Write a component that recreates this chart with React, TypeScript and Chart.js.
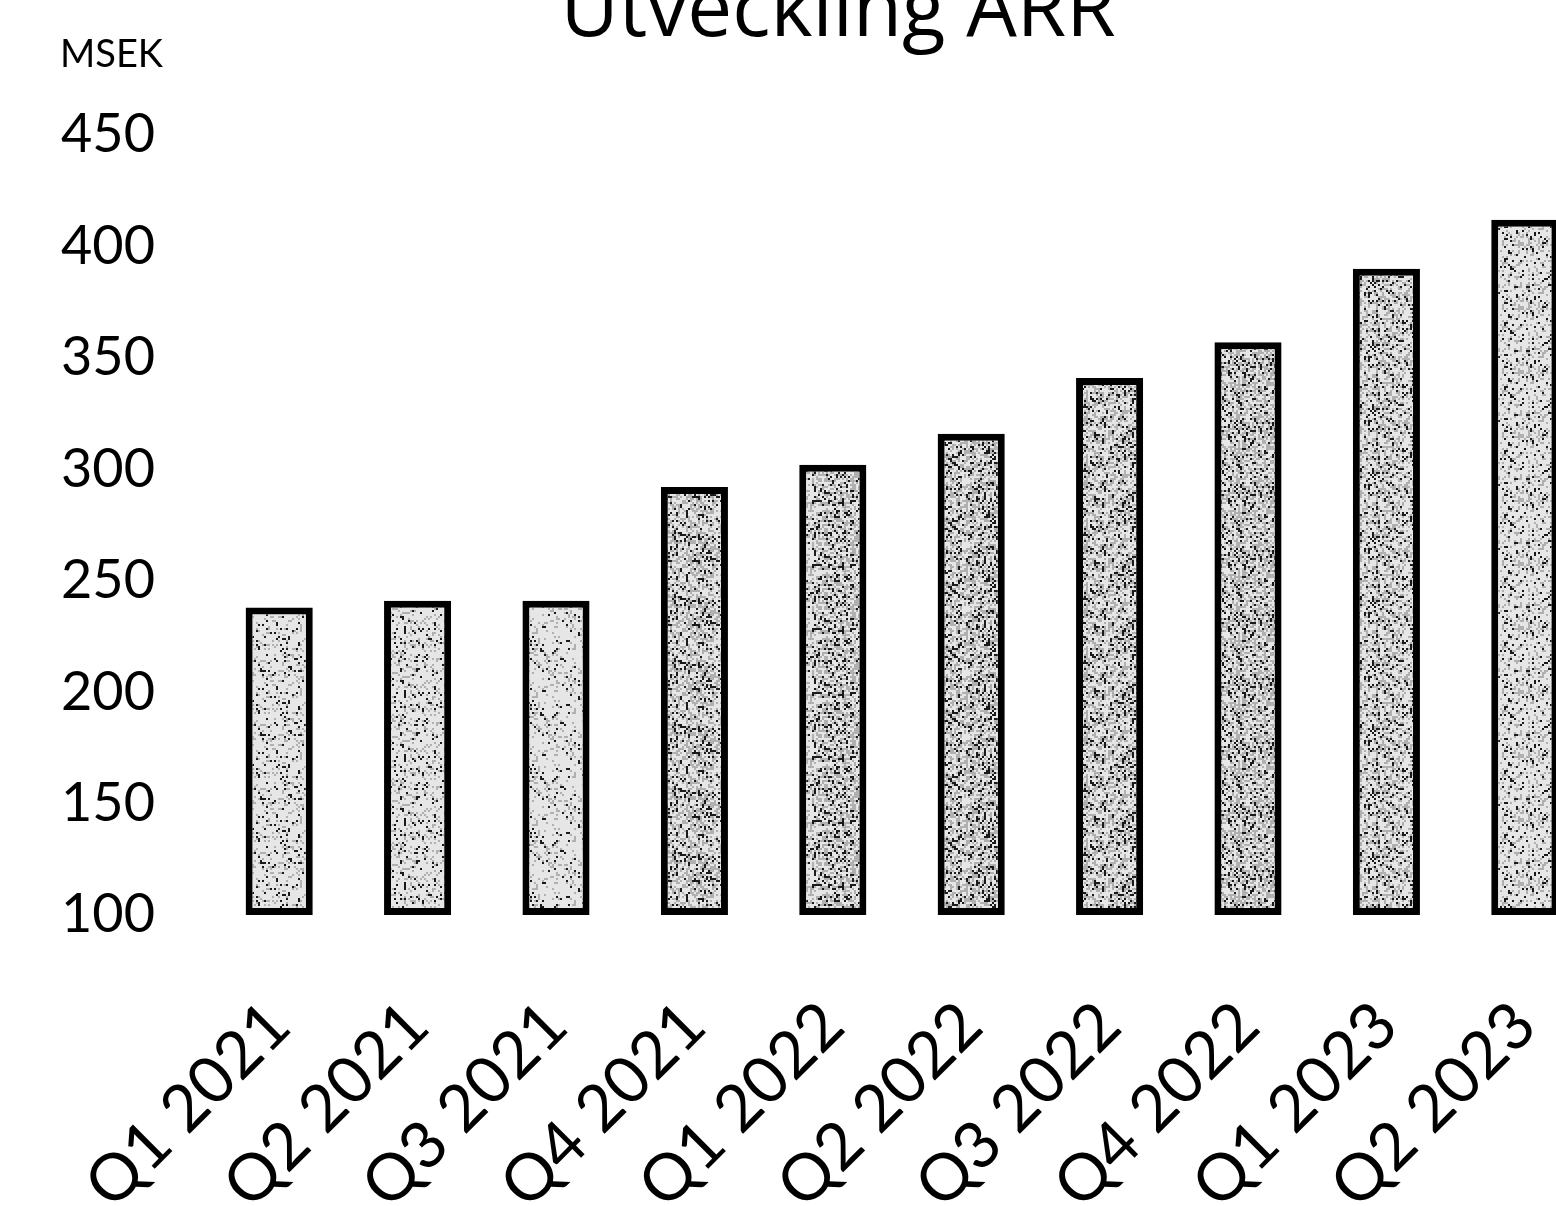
import React, { useEffect, useRef } from "react";
import { Chart, registerables } from "chart.js";

Chart.register(...registerables);

const TITLE = "Utveckling ARR";
const UNIT_LABEL = "MSEK";
const categories = [
  "Q1 2021",
  "Q2 2021",
  "Q3 2021",
  "Q4 2021",
  "Q1 2022",
  "Q2 2022",
  "Q3 2022",
  "Q4 2022",
  "Q1 2023",
  "Q2 2023",
];
const arrValues = [238, 241, 241, 292, 302, 316, 341, 357, 390, 412];
const yMin = 100;
const yMax = 450;
const yStep = 50;
const speckleDensity = [0.07, 0.08, 0.07, 0.17, 0.17, 0.18, 0.17, 0.18, 0.15, 0.1];

const CANVAS_W = 1676;
const CANVAS_H = 1250;
const OFFSET_TOP = 40;

function makePattern(density: number, seed: number): CanvasPattern | string {
  const size = 64;
  const c = document.createElement("canvas");
  c.width = size;
  c.height = size;
  const ctx = c.getContext("2d");
  if (!ctx) return "#d6d6d6";
  ctx.fillStyle = "#e6e6e6";
  ctx.fillRect(0, 0, size, size);
  let s = seed * 9301 + 49297;
  const next = () => {
    s = (s * 1103515245 + 12345) % 2147483648;
    return s / 2147483648;
  };
  for (let y = 0; y < size; y += 2) {
    for (let x = 0; x < size; x += 2) {
      const r = next();
      if (r < density) {
        ctx.fillStyle = "#1a1a1a";
        ctx.fillRect(x, y, 2, 2);
      } else if (r < density * 3) {
        ctx.fillStyle = "#b0b0b0";
        ctx.fillRect(x, y, 2, 2);
      }
    }
  }
  const p = ctx.createPattern(c, "repeat");
  return p || "#d6d6d6";
}

const unitLabelPlugin = {
  id: "unitLabel",
  afterDraw(chart: any) {
    const { ctx, chartArea } = chart;
    ctx.save();
    ctx.fillStyle = "#000";
    ctx.font = "38px Lato";
    ctx.textAlign = "left";
    ctx.textBaseline = "middle";
    ctx.fillText(UNIT_LABEL, 60, chartArea.top - 80);
    ctx.restore();
  },
};

export default function App() {
  const ref = useRef<HTMLCanvasElement | null>(null);

  useEffect(() => {
    if (!ref.current) return;
    const patterns = speckleDensity.map((d, i) => makePattern(d, i + 1));
    const chart = new Chart(ref.current, {
      type: "bar",
      data: {
        labels: categories,
        datasets: [
          {
            label: "ARR",
            data: arrValues,
            base: yMin,
            backgroundColor: patterns as any,
            borderColor: "#000",
            borderWidth: 7,
            borderSkipped: false,
            barPercentage: 0.485,
            categoryPercentage: 1,
            yAxisID: "y",
          },
        ],
      },
      options: {
        responsive: false,
        animation: false,
        layout: { padding: { left: 0, right: 0, top: 0, bottom: 0 } },
        plugins: {
          legend: { display: false },
          tooltip: { enabled: false },
          title: {
            display: true,
            text: TITLE,
            color: "#000",
            font: { family: "Open Sans", size: 80, weight: "normal" as any },
            padding: { top: 5, bottom: 74 },
          },
        },
        scales: {
          x: {
            grid: { display: false, drawTicks: false },
            border: { display: false },
            ticks: {
              color: "#000",
              font: { family: "Lato", size: 65 },
              minRotation: 45,
              maxRotation: 45,
              padding: 72,
              autoSkip: false,
            },
            afterFit(scale: any) {
              scale.height = CANVAS_H - (915 + OFFSET_TOP);
            },
          },
          y: {
            position: "left",
            min: yMin,
            max: yMax,
            beginAtZero: false,
            grid: { display: false, drawTicks: false },
            border: { display: false },
            ticks: {
              stepSize: yStep,
              color: "#000",
              font: { family: "Lato", size: 54 },
              padding: 55,
            },
            afterFit(scale: any) {
              scale.width = 210;
            },
          },
          yRight: {
            position: "right",
            min: yMin,
            max: yMax,
            grid: { display: false, drawTicks: false },
            border: { display: false },
            ticks: { display: false },
            afterFit(scale: any) {
              scale.width = 82;
            },
          },
        },
      },
      plugins: [unitLabelPlugin],
    });
    return () => chart.destroy();
  }, []);

  return (
    <div
      style={{
        position: "fixed",
        left: 0,
        top: 0,
        width: 1556,
        height: 1206,
        overflow: "hidden",
        background: "#fff",
      }}
    >
      <div style={{ position: "absolute", left: 0, top: -OFFSET_TOP }}>
        <canvas ref={ref} width={CANVAS_W} height={CANVAS_H} style={{ display: "block" }} />
      </div>
    </div>
  );
}
